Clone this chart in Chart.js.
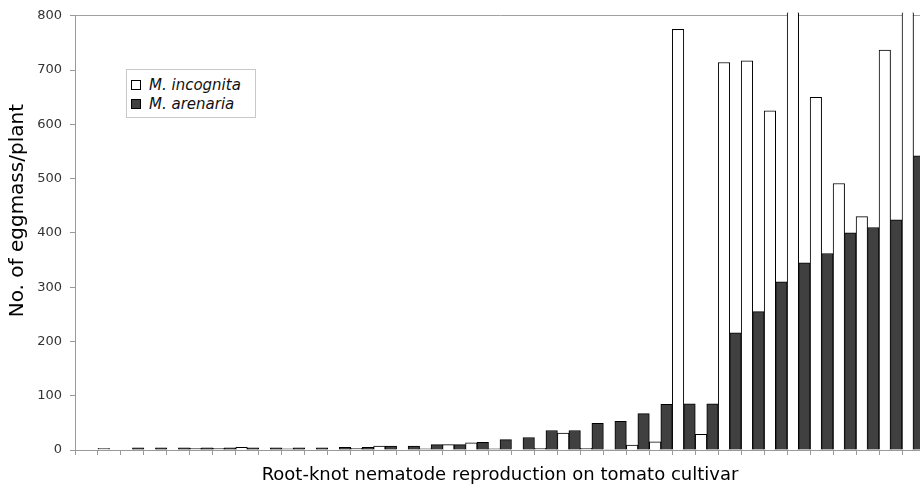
<!DOCTYPE html>
<html>
<head>
<meta charset="utf-8">
<script src="https://cdn.jsdelivr.net/npm/chart.js@4.4.1/dist/chart.umd.min.js"></script>
<style>
  html, body { margin: 0; padding: 0; overflow: hidden; background: #fff; }
  #wrap { position: relative; width: 925px; height: 492px; }
  #legend { position: absolute; left: 126px; top: 69px; width: 128px; height: 47px;
            border: 1px solid #c8c8c8; background: #fff; font-family: "DejaVu Sans", sans-serif;
            font-size: 15px; font-style: italic; color: #111; }
  .lg-item { position: absolute; left: 4px; height: 19px; line-height: 19px; white-space: nowrap; }
  .lg-box { display: inline-block; width: 8px; height: 8px; border: 1px solid #000; vertical-align: middle; margin-right: 8px; position: relative; top: -1px; }
</style>
</head>
<body>
<div id="wrap">
  <canvas id="c" width="925" height="492"></canvas>
  <div id="legend"></div>
</div>
<script>
const categories = ['1','2','3','4','5','6','7','8','9','10','11','12','13','14','15','16','17','18','19','20',
                    '21','22','23','24','25','26','27','28','29','30','31','32','33','34','35','36','37'];
const seriesNames = ['M. incognita', 'M. arenaria'];
const incognita = [0,3,0,0,0,3,3,5,0,2,0,0,3,7,0,2,10,13,2,0,3,31,3,1,9,15,775,29,714,717,625,900,650,491,430,737,900];
const arenaria  = [0,0,4,4,4,4,4,4,4,4,4,5,5,7,7,10,10,14,19,23,36,36,49,53,67,84,85,85,216,255,310,345,362,400,410,424,542];
const yTicks = [0,100,200,300,400,500,600,700,800];

const fills = ['#ffffff', '#404040'];

const chart = new Chart(document.getElementById('c'), {
  type: 'bar',
  data: {
    labels: categories,
    datasets: [
      { label: seriesNames[0], data: incognita, backgroundColor: fills[0], borderColor: '#000', borderWidth: 1,
        clip: { left: 0, top: 3, right: 0, bottom: 0 } },
      { label: seriesNames[1], data: arenaria, backgroundColor: fills[1], borderColor: '#000', borderWidth: 1,
        clip: { left: 0, top: 3, right: 0, bottom: 0 } }
    ]
  },
  options: {
    responsive: false,
    animation: false,
    devicePixelRatio: 1,
    layout: { padding: { top: 13, left: 0, right: 0, bottom: 0 } },
    datasets: { bar: { categoryPercentage: 1.0, barPercentage: 1.0 } },
    plugins: { legend: { display: false }, tooltip: { enabled: false } },
    scales: {
      x: {
        ticks: { display: false },
        grid: { drawOnChartArea: false, tickColor: '#9a9a9a', tickLength: 5, offset: true },
        border: { color: '#9a9a9a', width: 1 },
        title: { display: true, text: 'Root-knot nematode reproduction on tomato cultivar',
                 color: '#000', font: { family: 'DejaVu Sans', size: 18 }, padding: { top: 0, bottom: 6 } },
        afterFit: (s) => { s.height = 42; }
      },
      y: {
        min: 0, max: 800,
        afterBuildTicks: (s) => { s.ticks = yTicks.map(v => ({ value: v })); },
        ticks: { color: '#333', font: { family: 'DejaVu Sans', size: 13 }, padding: 8 },
        grid: { drawOnChartArea: true, tickLength: 5, tickColor: '#9a9a9a',
                color: (ctx) => (ctx.tick && ctx.tick.value === 800) ? '#a0a0a0' : 'rgba(0,0,0,0)' },
        border: { color: '#9a9a9a', width: 1 },
        title: { display: true, text: '       No. of eggmass/plant', color: '#000',
                 font: { family: 'DejaVu Sans', size: 20 }, padding: { top: 6, bottom: 0 } },
        afterFit: (s) => { s.width = 75; }
      }
    }
  }
});

// HTML legend built from the chart's datasets
const lg = document.getElementById('legend');
chart.data.datasets.forEach((ds, i) => {
  const item = document.createElement('div');
  item.className = 'lg-item';
  item.style.top = (6 + i * 19) + 'px';
  const box = document.createElement('span');
  box.className = 'lg-box';
  box.style.background = ds.backgroundColor;
  item.appendChild(box);
  item.appendChild(document.createTextNode(ds.label));
  lg.appendChild(item);
});
</script>
</body>
</html>
